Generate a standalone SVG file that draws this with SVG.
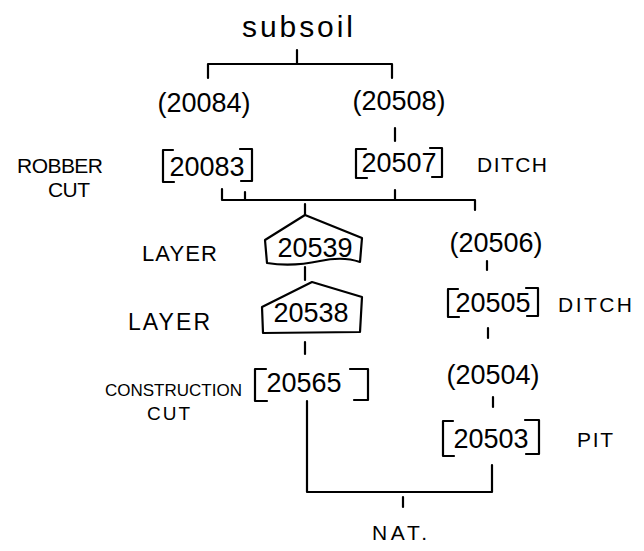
<svg xmlns="http://www.w3.org/2000/svg" width="644" height="551" viewBox="0 0 644 551">
<style>
  .ln{fill:none;stroke:#000;stroke-width:2.2;stroke-linecap:round;stroke-linejoin:round}
  .bx{fill:none;stroke:#000;stroke-width:2.2;stroke-linecap:round;stroke-linejoin:round}
  .num{font-family:"Liberation Sans",Arial,sans-serif;font-size:27px;fill:#000;text-anchor:middle}
  .lbl{font-family:"Liberation Sans",Arial,sans-serif;font-size:21px;fill:#000}
  .top{font-family:"Liberation Sans",Arial,sans-serif;font-size:30px;fill:#000}
</style>
<rect width="644" height="551" fill="#fff"/>
<g id="connectors">
  <path class="ln" d="M297,50 V63"/>
  <path class="ln" d="M208,78 V64 H392 V78"/>
  <path class="ln" d="M395,128 V141"/>
  <path class="ln" d="M245,192 V199"/>
  <path class="ln" d="M395,190 V199"/>
  <path class="ln" d="M222,189 V200 H475 V210"/>
  <path class="ln" d="M305,204 V215"/>
  <path class="ln" d="M305,267 V280"/>
  <path class="ln" d="M487,261 V270"/>
  <path class="ln" d="M488,328 V338"/>
  <path class="ln" d="M305,342 V354"/>
  <path class="ln" d="M493,397 V407"/>
  <path class="ln" d="M307,401 V492 H492 V465"/>
  <path class="ln" d="M403,497 V507"/>
</g>
<g id="subsoil"><text class="top" x="242" y="37" textLength="111">subsoil</text></g>
<g id="n20084"><text class="num" x="204" y="112">(20084)</text></g>
<g id="n20508"><text class="num" x="399" y="110">(20508)</text></g>
<g id="n20083">
  <path class="bx" d="M173,150 H163 V182 H174 M240,149 H252 V181 H241"/>
  <text class="num" x="207" y="176">20083</text>
  <text class="lbl" x="17" y="173" textLength="86">ROBBER</text>
  <text class="lbl" x="48" y="197" textLength="42">CUT</text>
</g>
<g id="n20507">
  <path class="bx" d="M366,149 H356 V178 H367 M430,148 H442 V177 H432"/>
  <text class="num" x="399" y="172">20507</text>
  <text class="lbl" x="477" y="172" textLength="70">DITCH</text>
</g>
<g id="n20539">
  <path class="bx" d="M265,240 L305,215 L362,238 L360,262 Q343,256 320,261 Q292,267 267,263 Z"/>
  <text class="num" x="315" y="257">20539</text>
  <text class="lbl" x="142" y="261" style="font-size:22px" textLength="75">LAYER</text>
</g>
<g id="n20506"><text class="num" x="496" y="252">(20506)</text></g>
<g id="n20538">
  <path class="bx" d="M262,307 L312,282 L362,297 L360,332 L263,333 Z"/>
  <text class="num" x="311" y="322">20538</text>
  <text class="lbl" x="128" y="330" style="font-size:23px" textLength="82">LAYER</text>
</g>
<g id="n20505">
  <path class="bx" d="M458,289 H448 V317 H459 M526,288 H538 V316 H527"/>
  <text class="num" x="493" y="312">20505</text>
  <text class="lbl" x="558" y="312" textLength="74">DITCH</text>
</g>
<g id="n20565">
  <path class="bx" d="M266,369 H255 V401 H267 M350,369 H368 V400 H354"/>
  <text class="num" x="304" y="392">20565</text>
  <text class="lbl" x="105" y="396" style="font-size:17px">CONSTRUCTION</text>
  <text class="lbl" x="147" y="420" style="font-size:19px" textLength="43">CUT</text>
</g>
<g id="n20504"><text class="num" x="493" y="384">(20504)</text></g>
<g id="n20503">
  <path class="bx" d="M453,421 H443 V456 H454 M525,420 H539 V454 H526"/>
  <text class="num" x="491" y="448">20503</text>
  <text class="lbl" x="577" y="447" textLength="36">PIT</text>
</g>
<g id="nat"><text class="lbl" x="372" y="540" textLength="55">NAT.</text></g>
</svg>
